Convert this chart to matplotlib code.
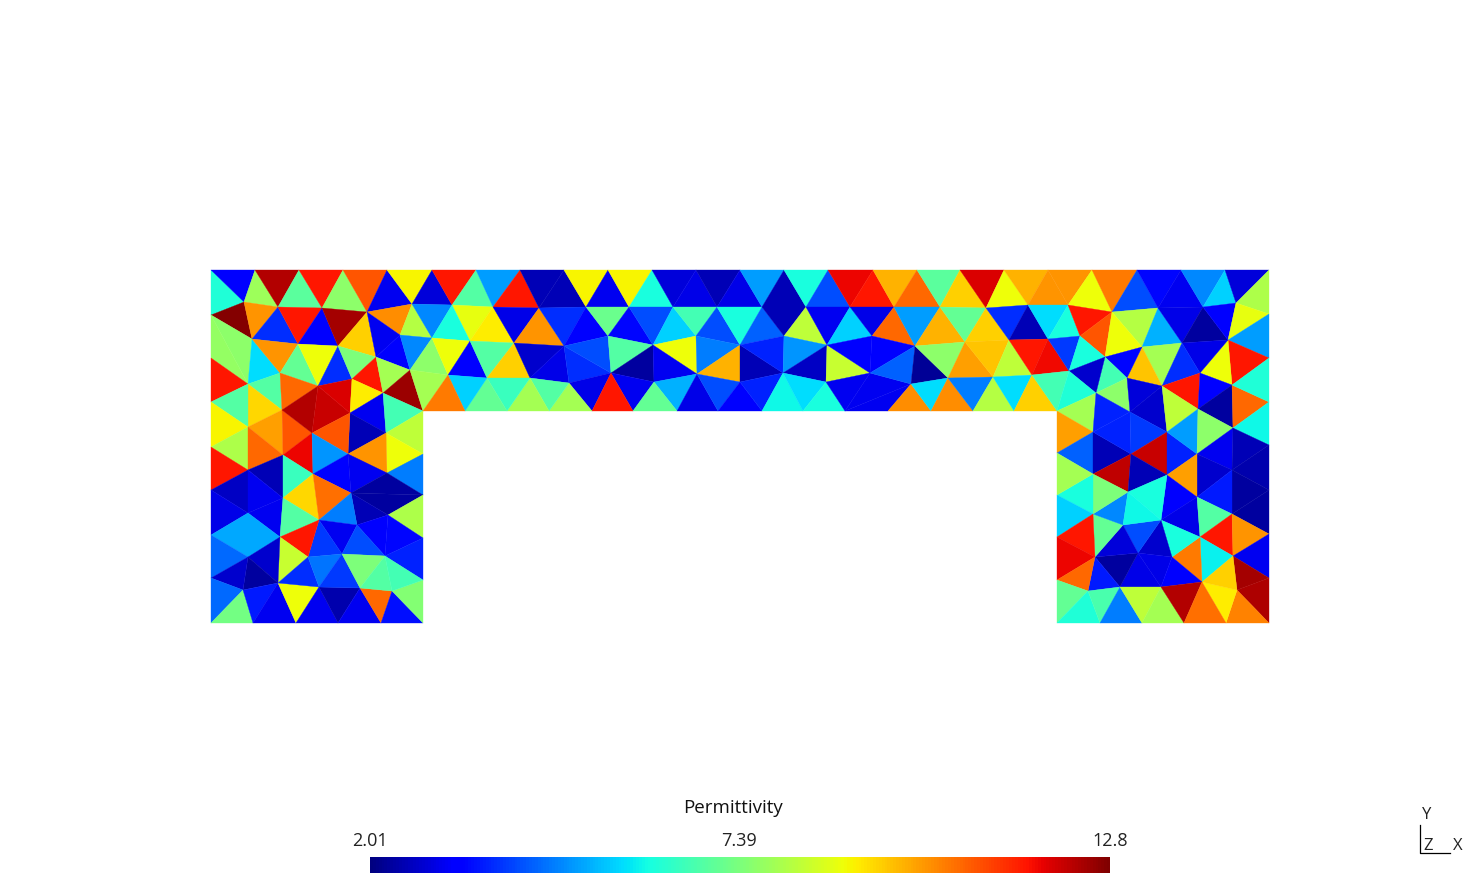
#!/usr/bin/env python3
"""Permittivity on a triangular mesh, flat shaded, with a jet colour bar."""

import numpy as np
import matplotlib
matplotlib.use("Agg")
import matplotlib.pyplot as plt
from matplotlib.tri import Triangulation

# Mesh cells: x1, y1, x2, y2, x3, y3, level
# level is the position of the cell's colour along the colour bar (0 to 1)
top_row_cells = [
    (211,270,244,302,211,315,.39), (211,270,255,270,244,302,.11), (255,270,244,302,278,307,.54),
    (255,270,299,270,278,307,.955), (299,270,278,307,322,308,.46), (299,270,343,270,322,308,.885),
    (343,270,322,308,367,312,.52), (343,270,387,270,367,312,.82), (387,270,367,312,412,304,.10),
    (387,270,432,270,412,304,.65), (432,270,412,304,452,305,.08), (432,270,476,270,452,305,.885),
    (476,270,452,305,493,307,.45), (476,270,520,270,493,307,.28), (520,270,493,307,539,308,.885),
    (520,270,564,270,539,308,.05), (564,270,539,308,586,307,.05), (564,270,608,270,586,307,.65),
    (608,270,586,307,629,307,.10), (608,270,652,270,629,307,.65), (652,270,629,307,673,307,.38),
    (652,270,696,270,673,307,.08), (696,270,673,307,717,307,.09), (696,270,740,270,717,307,.05),
    (740,270,717,307,762,307,.09), (740,270,784,270,762,307,.28), (784,270,762,307,806,307,.05),
    (784,270,828,270,806,307,.38), (828,270,806,307,850,307,.20), (828,270,873,270,850,307,.905),
    (873,270,850,307,894,307,.885), (873,270,917,270,894,307,.72), (917,270,894,307,940,307,.80),
    (917,270,960,270,940,307,.46), (960,270,940,307,986,308,.69), (960,270,1004,270,986,308,.92),
    (1004,270,986,308,1028,305,.64), (1004,270,1048,270,1028,305,.72), (1048,270,1028,305,1068,305,.75),
    (1048,270,1092,270,1068,305,.75), (1092,270,1068,305,1112,312,.64), (1092,270,1137,270,1112,312,.78),
    (1137,270,1112,312,1158,308,.20), (1137,270,1181,270,1158,308,.13), (1181,270,1158,308,1203,307,.10),
    (1181,270,1225,270,1203,307,.26), (1225,270,1203,307,1236,303,.33), (1225,270,1269,270,1236,303,.08),
    (1269,270,1236,303,1269,314,.56),
]

left_upper_cells = [
    (211,315,244,302,252,339,.995), (244,302,278,307,252,339,.75), (278,307,252,339,298,344,.17),
    (278,307,322,308,298,344,.885), (322,308,298,344,338,346,.11), (322,308,367,312,338,346,.965),
    (367,312,338,346,376,357,.69), (367,312,412,304,400,335,.76), (367,312,400,335,376,357,.10),
    (400,335,376,357,410,370,.12), (412,304,400,335,432,338,.57), (412,304,452,305,432,338,.26),
    (400,335,432,338,410,370,.26), (211,315,252,339,248,384,.52), (211,315,248,384,211,358,.53),
    (211,358,248,384,211,402,.885), (252,339,248,384,280,373,.34), (252,339,298,344,280,373,.75),
    (298,344,280,373,318,386,.47), (298,344,338,346,318,386,.64), (338,346,318,386,352,379,.17),
    (338,346,376,357,352,379,.50), (376,357,352,379,383,393,.885), (376,357,410,370,383,393,.55),
    (410,370,383,393,423,411,.975), (432,338,448,375,410,370,.52), (410,370,448,375,423,411,.55),
    (248,384,280,373,282,410,.45), (248,384,282,410,248,427,.68), (211,402,248,384,248,427,.45),
    (211,402,248,427,211,447,.65), (211,447,248,427,248,470,.56), (211,447,248,470,211,490,.885),
    (248,427,282,410,283,455,.74), (248,427,283,455,248,470,.80), (282,410,283,455,312,433,.82),
    (280,373,282,410,318,386,.80), (282,410,318,386,312,433,.955), (318,386,312,433,350,413,.935),
    (318,386,352,379,350,413,.92), (352,379,383,393,350,413,.66), (350,413,383,393,386,433,.10),
    (383,393,423,411,386,433,.43), (386,433,423,411,423,454,.58), (386,433,423,454,387,475,.64),
    (350,413,386,433,348,454,.05), (312,433,350,413,348,454,.82), (283,455,312,433,313,474,.905),
    (312,433,313,474,348,454,.27), (348,454,386,433,387,475,.75),
]

left_lower_cells = [
    (211,490,248,470,248,513,.06), (211,490,248,513,211,535,.09), (248,470,283,455,283,498,.05),
    (248,470,283,498,248,513,.10), (248,513,283,498,280,537,.10), (211,535,248,513,248,557,.29),
    (248,513,280,537,248,557,.29), (211,535,248,557,211,578,.23), (283,455,313,474,283,498,.42),
    (313,474,283,498,319,520,.68), (283,498,319,520,280,537,.45), (313,474,348,454,351,493,.11),
    (348,454,387,473,351,493,.10), (387,473,423,454,423,495,.25), (387,473,423,495,351,493,.03),
    (351,493,423,495,388,515,.03), (351,493,388,515,357,525,.05), (313,474,351,493,319,520,.79),
    (351,493,357,525,319,520,.25), (388,515,423,495,423,538,.56), (357,525,388,515,385,556,.12),
    (388,515,423,538,385,556,.13), (319,520,357,525,342,554,.10), (319,520,342,554,308,557,.18),
    (280,537,319,520,308,557,.885), (357,525,385,556,342,554,.20), (385,556,423,538,423,580,.16),
    (280,537,308,557,278,583,.59), (248,557,280,537,278,583,.07), (248,557,278,583,243,590,.03),
    (211,578,248,557,243,590,.07), (211,578,243,590,211,623,.23), (243,590,253,623,211,623,.49),
    (243,590,278,583,253,623,.15), (278,583,296,623,253,623,.10), (278,583,319,587,296,623,.64),
    (296,623,319,587,338,623,.10), (319,587,360,588,338,623,.04), (360,588,381,623,338,623,.10),
    (360,588,392,591,381,623,.80), (392,591,423,623,381,623,.14), (392,591,423,580,423,623,.51),
    (278,583,308,557,319,587,.17), (308,557,342,554,319,587,.24), (342,554,360,588,319,587,.18),
    (342,554,385,556,360,588,.50), (385,556,392,591,360,588,.45), (385,556,423,580,392,591,.43),
]

band_left_cells = [
    (452,305,493,307,470,341,.63), (452,305,470,341,432,338,.38), (493,307,514,343,470,341,.66),
    (493,307,539,308,514,343,.09), (539,308,564,346,514,343,.75), (539,308,586,307,564,346,.17),
    (586,307,608,336,564,346,.11), (586,307,629,307,608,336,.48), (629,307,653,345,608,336,.13),
    (432,338,470,341,448,375,.64), (470,341,487,378,448,375,.12), (470,341,514,343,487,378,.45),
    (514,343,530,378,487,378,.69), (514,343,564,346,530,378,.07), (564,346,569,383,530,378,.09),
    (564,346,611,373,569,383,.17), (564,346,608,336,611,373,.20), (608,336,653,345,611,373,.45),
    (611,373,653,345,654,382,.03), (611,373,654,382,633,411,.10), (569,383,611,373,592,411,.09),
    (611,373,592,411,633,411,.885), (569,383,592,411,549,411,.55), (530,378,569,383,549,411,.45),
    (530,378,549,411,507,411,.55), (487,378,530,378,507,411,.42), (487,378,507,411,465,411,.47),
    (448,375,487,378,465,411,.33), (448,375,465,411,423,411,.78),
]

band_middle_cells = [
    (629,307,673,307,653,345,.20), (673,307,696,336,653,345,.33), (673,307,717,307,696,336,.43),
    (717,307,740,345,696,336,.20), (717,307,762,307,740,345,.38), (762,307,784,336,740,345,.22),
    (762,307,806,307,784,336,.05), (806,307,827,345,784,336,.58), (806,307,850,307,827,345,.10),
    (850,307,872,336,827,345,.33), (850,307,894,307,872,336,.09), (653,345,696,336,697,374,.64),
    (653,345,697,374,654,382,.10), (696,336,740,345,697,374,.25), (740,345,740,382,697,374,.72),
    (740,345,783,373,740,382,.05), (740,345,784,336,783,373,.16), (784,336,827,345,783,373,.27),
    (827,345,826,382,783,373,.06), (827,345,870,373,826,382,.59), (827,345,872,336,870,373,.12),
    (654,382,697,374,677,411,.30), (654,382,677,411,633,411,.47), (697,374,718,411,677,411,.09),
    (697,374,740,382,718,411,.20), (740,382,762,411,718,411,.12), (740,382,783,373,762,411,.16),
    (783,373,803,411,762,411,.37), (783,373,826,382,803,411,.34), (826,382,845,411,803,411,.38),
    (826,382,870,373,845,411,.10), (870,373,911,384,845,411,.10),
]

band_right_cells = [
    (894,307,915,346,872,336,.80), (894,307,940,307,915,346,.28), (940,307,965,342,915,346,.72),
    (940,307,986,308,965,342,.47), (986,308,1009,340,965,342,.69), (986,308,1028,305,1009,340,.17),
    (1028,305,1048,339,1009,340,.05), (1028,305,1068,305,1048,339,.34), (1068,305,1080,336,1048,339,.38),
    (872,336,915,346,870,373,.11), (915,346,911,384,870,373,.22), (915,346,948,378,911,384,.02),
    (915,346,965,342,948,378,.52), (965,342,993,377,948,378,.74), (965,342,1009,340,993,377,.70),
    (1009,340,1032,375,993,377,.58), (1009,340,1048,339,1032,375,.885), (1048,339,1069,371,1032,375,.90),
    (1048,339,1080,336,1069,371,.18), (845,411,911,384,888,411,.10), (911,384,931,411,888,411,.76),
    (911,384,948,378,931,411,.34), (948,378,973,411,931,411,.76), (948,378,993,377,973,411,.25),
    (993,377,1014,411,973,411,.57), (993,377,1032,375,1014,411,.34), (1032,375,1057,411,1014,411,.69),
    (1032,375,1069,371,1057,411,.43),
]

right_upper_cells = [
    (1068,305,1112,312,1080,336,.885), (1112,312,1105,357,1080,336,.82), (1112,312,1158,308,1142,347,.57),
    (1112,312,1142,347,1105,357,.64), (1158,308,1182,343,1142,347,.30), (1158,308,1203,307,1182,343,.09),
    (1203,307,1228,340,1182,343,.03), (1203,307,1236,303,1228,340,.12), (1236,303,1269,314,1228,340,.63),
    (1269,314,1269,358,1228,340,.28), (1228,340,1269,358,1232,385,.885), (1228,340,1232,385,1200,373,.64),
    (1182,343,1228,340,1200,373,.09), (1142,347,1182,343,1162,386,.55), (1182,343,1200,373,1162,386,.17),
    (1142,347,1162,386,1127,378,.70), (1105,357,1142,347,1127,378,.13), (1080,336,1105,357,1069,371,.38),
    (1105,357,1127,378,1096,393,.43), (1105,357,1096,393,1069,371,.07), (1096,393,1127,378,1130,412,.52),
    (1069,371,1096,393,1057,411,.39), (1057,411,1096,393,1093,432,.55), (1096,393,1130,412,1093,432,.16),
    (1127,378,1162,386,1130,412,.08), (1162,386,1167,432,1130,412,.07), (1162,386,1200,373,1198,409,.885),
    (1162,386,1198,409,1167,432,.58), (1200,373,1232,385,1198,409,.11), (1232,385,1233,428,1198,409,.03),
    (1232,385,1269,402,1233,428,.80), (1232,385,1269,358,1269,402,.39), (1269,402,1269,445,1233,428,.37),
]

right_lower_cells = [
    (1057,411,1093,432,1057,453,.74), (1057,453,1093,432,1093,474,.22), (1093,432,1131,454,1093,474,.05),
    (1093,432,1130,412,1131,454,.16), (1130,412,1167,432,1131,454,.18), (1131,454,1167,432,1167,475,.935),
    (1093,474,1131,454,1128,492,.945), (1131,454,1167,475,1128,492,.05), (1167,432,1197,454,1167,475,.16),
    (1167,432,1198,409,1197,454,.28), (1198,409,1233,428,1197,454,.52), (1233,428,1232,470,1197,454,.10),
    (1233,428,1269,445,1232,470,.05), (1232,470,1269,445,1269,490,.04), (1232,470,1269,490,1232,514,.03),
    (1232,514,1269,490,1269,534,.03), (1197,454,1232,470,1197,497,.07), (1232,470,1232,514,1197,497,.15),
    (1197,454,1197,497,1167,475,.74), (1167,475,1197,497,1161,520,.12), (1197,497,1200,537,1161,520,.09),
    (1197,497,1232,514,1200,537,.45), (1232,514,1233,556,1200,537,.885), (1232,514,1269,534,1233,556,.75),
    (1269,534,1269,578,1233,556,.10), (1233,556,1269,578,1237,590,.965), (1237,590,1269,578,1269,623,.96),
    (1237,590,1269,623,1226,623,.77), (1202,582,1237,590,1226,623,.66), (1200,537,1233,556,1202,582,.36),
    (1233,556,1237,590,1202,582,.69), (1172,557,1200,537,1202,582,.78), (1161,520,1200,537,1172,557,.38),
    (1161,520,1172,557,1138,553,.07), (1172,557,1161,587,1138,553,.09), (1172,557,1202,582,1161,587,.12),
    (1138,553,1161,587,1120,587,.09), (1095,557,1138,553,1120,587,.03), (1095,557,1120,587,1088,591,.15),
    (1123,525,1161,520,1138,553,.20), (1123,525,1138,553,1095,557,.08), (1093,514,1123,525,1095,557,.47),
    (1093,514,1128,492,1123,525,.26), (1128,492,1167,475,1161,520,.38), (1128,492,1161,520,1123,525,.37),
    (1093,474,1128,492,1093,514,.50), (1057,495,1093,474,1093,514,.38), (1057,453,1093,474,1057,495,.55),
    (1057,495,1093,514,1057,537,.33), (1057,537,1093,514,1095,557,.885), (1057,537,1095,557,1057,580,.905),
    (1057,580,1095,557,1088,591,.80), (1057,580,1088,591,1057,623,.47), (1057,623,1088,591,1100,623,.39),
    (1088,591,1120,587,1100,623,.44), (1120,587,1142,623,1100,623,.25), (1120,587,1161,587,1142,623,.58),
    (1161,587,1184,623,1142,623,.55), (1161,587,1202,582,1184,623,.955), (1202,582,1226,623,1184,623,.79),
]

colorbar_ticks = [2.01, 7.39, 12.8]
colorbar_title = "Permittivity"

W, H = 1480, 893
plt.rcParams["font.family"] = ["Open Sans", "DejaVu Sans"]

cells = np.array(top_row_cells + left_upper_cells + left_lower_cells + band_left_cells
                 + band_middle_cells + band_right_cells + right_upper_cells + right_lower_cells)
x = cells[:, [0, 2, 4]].ravel()
y = cells[:, [1, 3, 5]].ravel()
triangles = np.arange(len(x)).reshape(-1, 3)
vmin, vmax = colorbar_ticks[0], colorbar_ticks[-1]
permittivity = vmin + cells[:, 6] * (vmax - vmin)

fig = plt.figure(figsize=(W / 100, H / 100), dpi=100, facecolor="white")
ax = fig.add_axes([0, 0, 1, 1])
ax.set_xlim(0, W)
ax.set_ylim(H, 0)
ax.axis("off")

mesh = ax.tripcolor(Triangulation(x, y, triangles), facecolors=permittivity, cmap="jet",
                    vmin=vmin, vmax=vmax, edgecolors="face", linewidth=0.25)

# colour bar along the bottom, tick labels above it
cax = fig.add_axes([370 / W, 1 - 873 / H, 740 / W, 16 / H])
cbar = fig.colorbar(mesh, cax=cax, orientation="horizontal", ticks=colorbar_ticks)
cbar.outline.set_visible(False)
cbar.ax.xaxis.set_ticks_position("top")
cbar.ax.tick_params(length=0, pad=5, labelsize=13, labelcolor="#222222")
cbar.ax.set_xticklabels(["2.01", "7.39", "12.8"])
ax.text(733, 808, colorbar_title, ha="center", va="center", fontsize=13.5, color="#111111")

# axis triad, bottom right
ax.plot([1420, 1420, 1450], [825, 853, 853], color="black", lw=0.9)
ax.text(1427, 815, "Y", ha="center", va="center", fontsize=12, color="#222222")
ax.text(1428, 846, "Z", ha="center", va="center", fontsize=12, color="#222222")
ax.text(1458, 846, "X", ha="center", va="center", fontsize=12, color="#222222")

fig.savefig("out.png", dpi=100)
